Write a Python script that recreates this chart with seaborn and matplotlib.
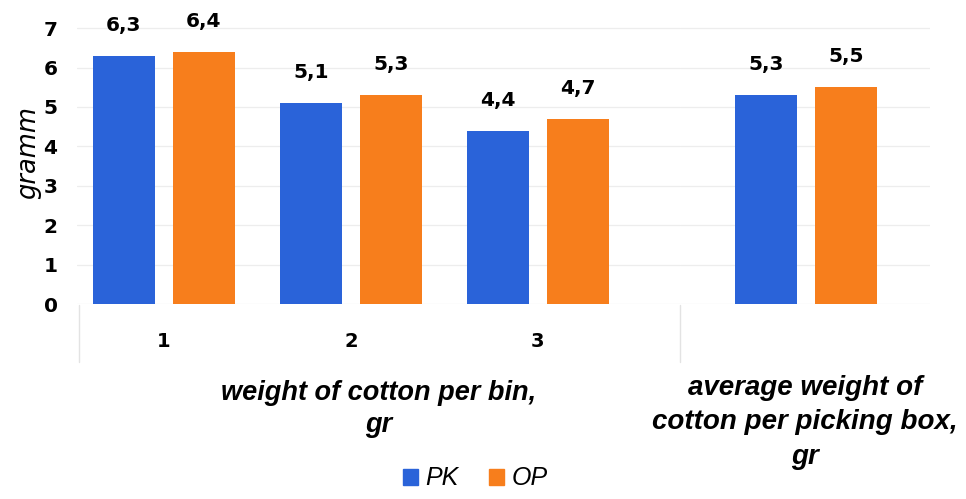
import pandas as pd
import matplotlib.pyplot as plt
import seaborn as sns
from matplotlib.lines import Line2D
from matplotlib.patches import Patch

# Dane
groups = ["1", "2", "3"]
pk_values = [6.3, 5.1, 4.4]
op_values = [6.4, 5.3, 4.7]
avg_pk = [5.3]
avg_op = [5.5]
series_names = ["PK", "OP"]

left_label = "weight of cotton per bin,\ngr"
right_label = "average weight of\ncotton per picking box,\ngr"

blue = "#2a63d9"
orange = "#f77e1c"

df_left = pd.DataFrame({
    "group": groups * 2,
    "value": pk_values + op_values,
    "series": [series_names[0]] * len(groups) + [series_names[1]] * len(groups),
})
df_right = pd.DataFrame({
    "group": [""] * 2,
    "value": avg_pk + avg_op,
    "series": series_names,
})

sns.set_style("white")
plt.rcParams["font.family"] = ["DejaVu Sans"]
plt.rcParams["text.color"] = "black"
plt.rcParams["xtick.color"] = "black"
plt.rcParams["ytick.color"] = "black"
plt.rcParams["axes.labelcolor"] = "black"

fig = plt.figure(figsize=(9.66, 4.99), dpi=100)
ax1 = fig.add_axes([77 / 966, 1 - 304 / 499, 603 / 966, 303.4 / 499])
ax2 = fig.add_axes([680 / 966, 1 - 304 / 499, 250 / 966, 303.4 / 499])

for ax, df in [(ax1, df_left), (ax2, df_right)]:
    sns.barplot(data=df, x="group", y="value", hue="series", palette=[blue, orange],
                width=0.855, gap=0.225, saturation=1, linewidth=0, ax=ax, legend=False, zorder=3)
    ax.set_ylim(0, 7.7)
    ax.set_yticks(range(0, 8))
    ax.grid(axis="y", color="#ededed", linewidth=0.9, zorder=0)
    for s in ax.spines.values():
        s.set_visible(False)
    ax.tick_params(axis="both", length=0)
    ax.tick_params(axis="x", pad=20)
    for lab in ax.get_xticklabels():
        lab.set_fontweight("bold")
        lab.set_fontsize(14)
    # etykiety wartosci
    for cont in ax.containers:
        labels = [f"{v:.1f}".replace(".", ",") for v in cont.datavalues]
        ax.bar_label(cont, labels=labels, padding=15, fontsize=14.5, fontweight="bold", clip_on=False)

ax1.set_xlim(-0.465, 2.76)
ax2.set_xlim(-0.674, 0.663)
ax2.set_yticklabels([])
ax2.set_ylabel("")
for lab in ax1.get_yticklabels():
    lab.set_fontweight("bold")
    lab.set_fontsize(14.5)
ax1.tick_params(axis="y", pad=14)

ax1.set_ylabel("gramm", fontsize=18.5, fontstyle="italic", labelpad=2)
ax1.set_xlabel(left_label, family=["Liberation Sans"], fontsize=19.5, fontweight="bold",
               fontstyle="italic", labelpad=21, linespacing=1.3)
ax2.set_xlabel(right_label, family=["Liberation Sans"], fontsize=20, fontweight="bold",
               fontstyle="italic", labelpad=31, linespacing=1.42)

# pionowe linie podzialu kategorii
for xp in [79, 680]:
    fig.add_artist(Line2D([xp / 966, xp / 966], [1 - 305 / 499, 1 - 362 / 499],
                          color="#e3e3e3", linewidth=1))

handles = [Patch(color=blue, label=series_names[0]), Patch(color=orange, label=series_names[1])]
leg = fig.legend(handles=handles, loc="lower center", bbox_to_anchor=(0.492, -0.028), ncol=2,
                 frameon=False, handlelength=0.6, handleheight=0.6, handletextpad=0.3,
                 columnspacing=1.2, prop={"family": "Liberation Sans", "size": 18, "style": "italic"})

plt.savefig("out.png", dpi=100)
